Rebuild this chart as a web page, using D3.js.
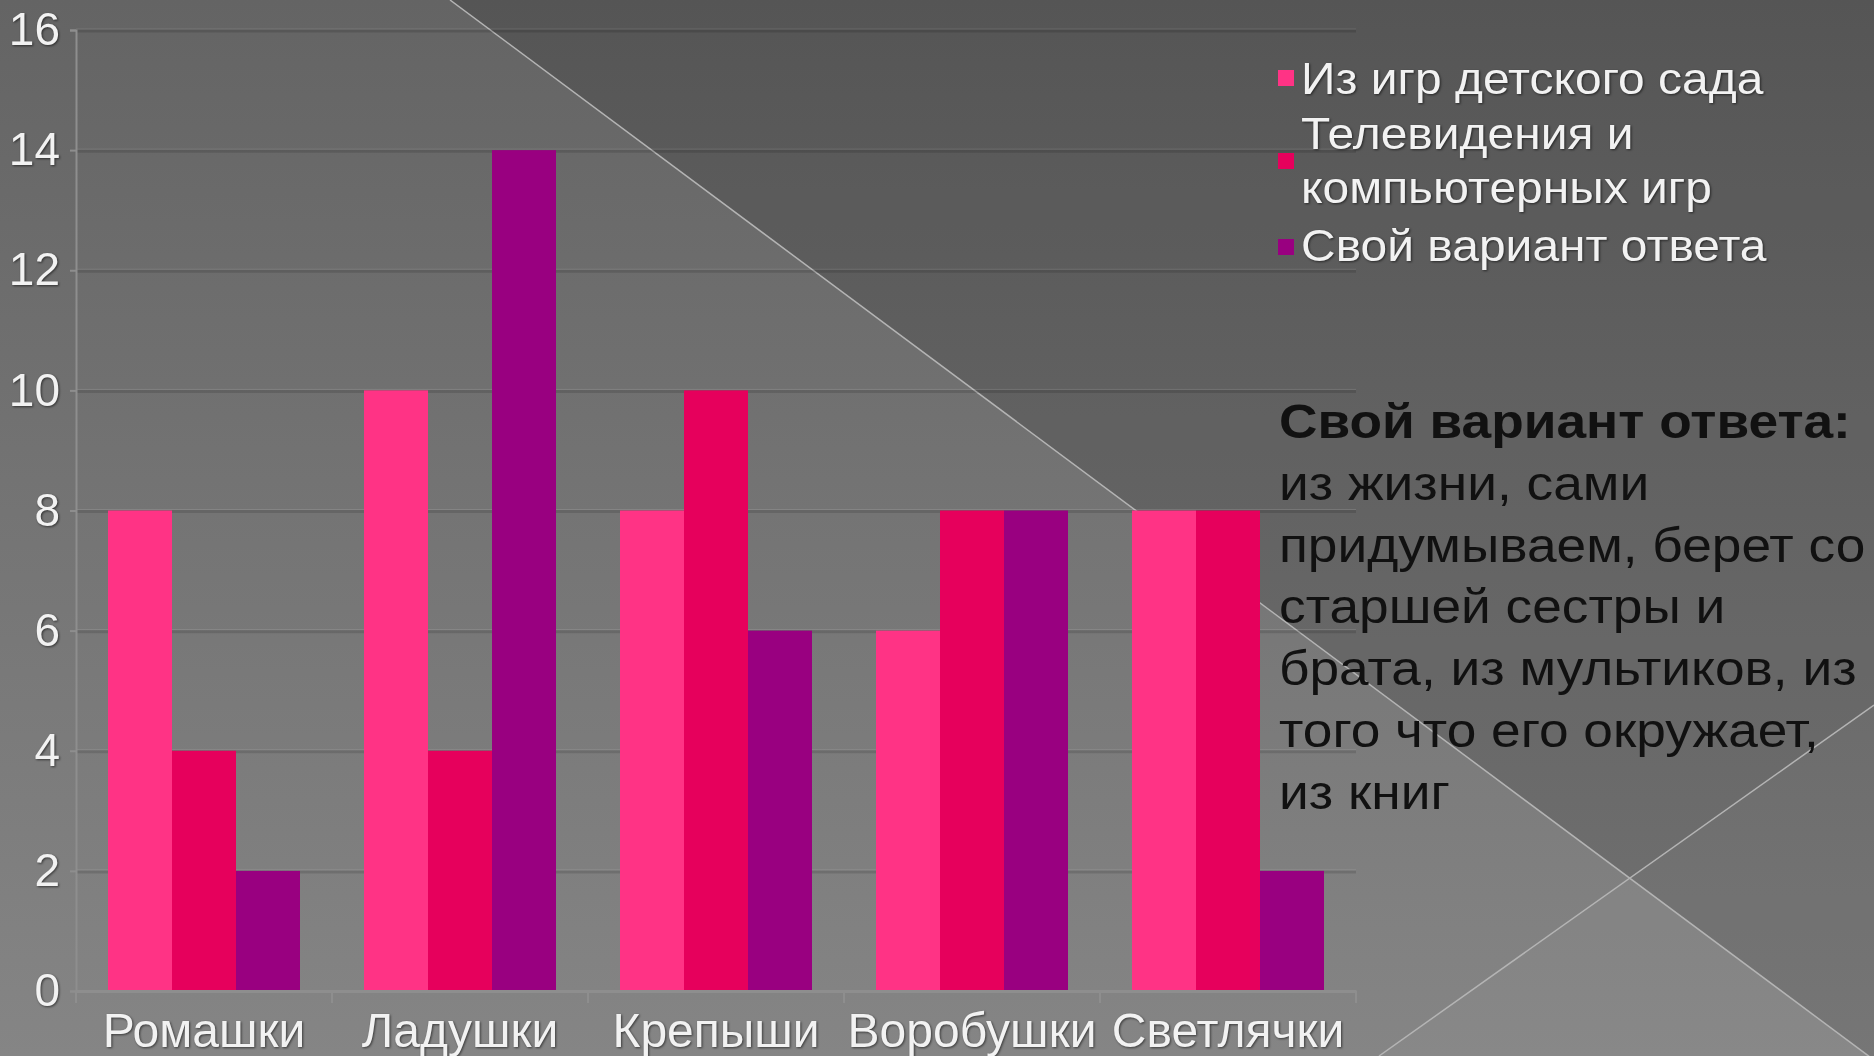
<!DOCTYPE html>
<html>
<head>
<meta charset="utf-8">
<script src="https://cdn.jsdelivr.net/npm/d3@7"></script>
<style>
  html, body { margin: 0; padding: 0; overflow: hidden; }
  svg { display: block; }
  .light { fill: #f2f2f2; filter: drop-shadow(1px 1px 1px rgba(0,0,0,0.55)); }
</style>
</head>
<body>
<div id="viz"></div>
<script>
var categories = ["Ромашки", "Ладушки", "Крепыши", "Воробушки", "Светлячки"];
var seriesNames = ["Из игр детского сада", "Телевидения и компьютерных игр", "Свой вариант ответа"];
var legendLines = [["Из игр детского сада"], ["Телевидения и", "компьютерных игр"], ["Свой вариант ответа"]];
var kindergarten = [8, 10, 8, 6, 8];
var tvGames = [4, 4, 10, 8, 8];
var ownAnswer = [2, 14, 6, 8, 2];
var yTicks = [0, 2, 4, 6, 8, 10, 12, 14, 16];
var colors = ["#ff3385", "#e6005c", "#990080"];
var noteTitle = "Свой вариант ответа:";
var noteLines = ["из жизни, сами", "придумываем, берет со", "старшей сестры и",
                 "брата, из мультиков, из", "того что его окружает,", "из книг"];

var width = 1874,
    height = 1056;

var svg = d3.select("#viz")
  .append("svg")
    .attr("width", width)
    .attr("height", height)
    .style("font-family", "'Liberation Sans', Arial, sans-serif");

// slide background
var defs = svg.append("defs");
var grad = defs.append("linearGradient")
    .attr("id", "bg")
    .attr("x1", 0).attr("y1", 0).attr("x2", 0).attr("y2", 1);
grad.append("stop").attr("offset", "0%").attr("stop-color", "#646464");
grad.append("stop").attr("offset", "100%").attr("stop-color", "#858585");

svg.append("rect")
    .attr("width", width)
    .attr("height", height)
    .attr("fill", "url(#bg)");

svg.append("path")
    .attr("d", "M450,0 L1874,0 L1874,1060 Z")
    .attr("fill", "#000")
    .attr("fill-opacity", 0.14);

svg.append("path")
    .attr("d", "M1379,1056 L1874,705 L1874,1056 Z")
    .attr("fill", "#fff")
    .attr("fill-opacity", 0.03);

svg.append("line")
    .attr("x1", 450).attr("y1", 0).attr("x2", 1874).attr("y2", 1060)
    .attr("stroke", "#b4b4b4").attr("stroke-width", 1.5);
svg.append("line")
    .attr("x1", 1379).attr("y1", 1056).attr("x2", 1874).attr("y2", 705)
    .attr("stroke", "#b4b4b4").attr("stroke-width", 1.5);

// scales
var x0 = d3.scaleBand()
    .domain(categories)
    .range([76, 1356]);

var x1 = d3.scaleBand()
    .domain(seriesNames)
    .range([0, x0.bandwidth()])
    .paddingOuter(0.5);

var y = d3.scaleLinear()
    .domain([0, 16])
    .range([991, 30]);

// gridlines
var grid = svg.append("g");
grid.selectAll(".gd")
  .data(yTicks.slice(1))
  .enter().append("line")
    .attr("x1", 76).attr("x2", 1356)
    .attr("y1", function(d) { return y(d) + 1; })
    .attr("y2", function(d) { return y(d) + 1; })
    .attr("stroke", "#000").attr("stroke-opacity", 0.13).attr("stroke-width", 3);
grid.selectAll(".gl")
  .data(yTicks.slice(1))
  .enter().append("line")
    .attr("x1", 76).attr("x2", 1356)
    .attr("y1", function(d) { return y(d) - 1; })
    .attr("y2", function(d) { return y(d) - 1; })
    .attr("stroke", "#fff").attr("stroke-opacity", 0.12).attr("stroke-width", 1);

// bars
var rows = categories.map(function(c, i) {
  return { cat: c, values: [kindergarten[i], tvGames[i], ownAnswer[i]] };
});

var groups = svg.append("g").selectAll("g")
  .data(rows)
  .enter().append("g")
    .attr("transform", function(d) { return "translate(" + x0(d.cat) + ",0)"; });

groups.selectAll("rect")
  .data(function(d) {
    return d.values.map(function(v, j) { return { name: seriesNames[j], value: v, color: colors[j] }; });
  })
  .enter().append("rect")
    .attr("x", function(d) { return x1(d.name); })
    .attr("y", function(d) { return y(d.value); })
    .attr("width", x1.bandwidth())
    .attr("height", function(d) { return y(0) - y(d.value); })
    .attr("fill", function(d) { return d.color; });

// axes
var yAxis = svg.append("g")
    .attr("transform", "translate(76,0)")
    .call(d3.axisLeft(y).tickValues(yTicks).tickSize(6).tickPadding(10));
yAxis.select(".domain").attr("stroke", "#8e8e8e").attr("stroke-width", 2);
yAxis.selectAll(".tick line").attr("stroke", "#8e8e8e").attr("stroke-width", 2);
yAxis.selectAll(".tick text")
    .attr("class", "light")
    .attr("font-size", 46)
    .attr("fill", null);

var xAxis = svg.append("g")
    .attr("transform", "translate(0,991)")
    .call(d3.axisBottom(x0).tickSize(0).tickPadding(40));
xAxis.select(".domain").attr("stroke", "#8e8e8e").attr("stroke-width", 3);
xAxis.selectAll(".tick text")
    .attr("class", "light")
    .attr("font-size", 48)
    .attr("dy", "0.33em")
    .attr("fill", null);

xAxis.selectAll(".sep")
  .data(categories.concat(["end"]))
  .enter().append("line")
    .attr("x1", function(d, i) { return 76 + i * x0.step(); })
    .attr("x2", function(d, i) { return 76 + i * x0.step(); })
    .attr("y1", 0).attr("y2", 12)
    .attr("stroke", "#8e8e8e").attr("stroke-width", 2);

// legend (text is a bit stretched sideways in the original slide)
var legendBase = [[94], [149, 203], [261]];
var legendBoxY = [78, 161, 247];
var legend = svg.append("g");
legendLines.forEach(function(lines, i) {
  legend.append("rect")
      .attr("x", 1278).attr("y", legendBoxY[i] - 8)
      .attr("width", 16).attr("height", 16)
      .attr("fill", colors[i]);
  lines.forEach(function(t, k) {
    legend.append("text")
        .attr("class", "light")
        .attr("transform", "translate(1301," + legendBase[i][k] + ") scale(1.09,1)")
        .attr("font-size", 44)
        .text(t);
  });
});

// note
var note = svg.append("g").attr("fill", "#111");
note.append("text")
    .attr("transform", "translate(1279,438) scale(1.11,1)")
    .attr("font-size", 48).attr("font-weight", "bold")
    .text(noteTitle);
note.selectAll(".nl")
  .data(noteLines)
  .enter().append("text")
    .attr("transform", function(d, i) { return "translate(1279," + (500 + i * 61.7) + ") scale(1.11,1)"; })
    .attr("font-size", 48)
    .text(function(d) { return d; });
</script>
</body>
</html>
